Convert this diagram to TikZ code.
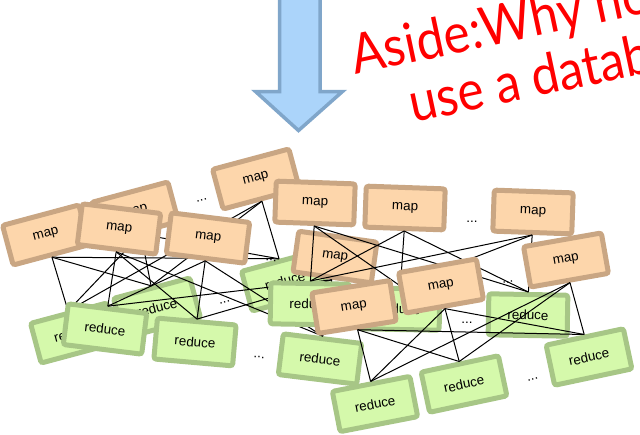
\documentclass[tikz,border=0pt]{standalone}
\usepackage{fontspec}
\setmainfont{Liberation Sans}
\newfontfamily\titlefont[FakeStretch=0.9]{Lato}
\definecolor{mapfill}{HTML}{FDD6AB}
\definecolor{mapline}{HTML}{C9A683}
\definecolor{redfill}{HTML}{D5F9AB}
\definecolor{redline}{HTML}{A7C686}
\definecolor{arrowfill}{HTML}{ABD4FA}
\definecolor{arrowline}{HTML}{80A6CA}
\begin{document}
\begin{tikzpicture}[x=1pt,y=-1pt,
  box/.style={draw, line width=5pt, rounded corners=2.5pt, minimum width=79pt,
    minimum height=41pt, inner sep=0pt, font=\fontsize{13.4}{15}\selectfont},
  mapbox/.style={box, draw=mapline, fill=mapfill},
  redbox/.style={box, draw=redline, fill=redfill},
  dots/.style={font=\fontsize{13.4}{15}\selectfont, inner sep=0pt, anchor=base},
  link/.style={line width=1pt},
  title/.style={anchor=base west, rotate=12, text=red, inner sep=0pt,
    font=\titlefont\fontsize{55}{60}\selectfont}]
\useasboundingbox (0,0) rectangle (640,434);
\clip (0,0) rectangle (640,434);

% big arrow
\draw[arrowline, fill=arrowfill, line width=3.5pt, line join=miter]
  (279.5,-10) -- (320,-10) -- (320,91.5) -- (342.5,91.5) -- (298.5,130.5)
  -- (255.5,91.5) -- (279.5,91.5) -- cycle;

% title
\node[title] (t1) at (355,75) {Aside:Why not};
\node[title] (t2) at (413,123) {use a database?};

% job P (back)
\node[mapbox, rotate=15] (Pm1) at (46,235) {map};
\node[mapbox, rotate=15] (Pm2) at (135,212) {map};
\node[mapbox, rotate=15] (Pm3) at (256,179) {map};
\node[dots, rotate=15] (Pd1) at (202,201) {...};
\node[redbox, rotate=15] (Pr1) at (74,333) {reduce};
\node[redbox, rotate=15] (Pr2) at (157,308) {reduce};
\node[redbox, rotate=15] (Pr3) at (285,281) {reduce};
\node[dots, rotate=15] (Pd2) at (225,303) {...};
\foreach \m in {Pm1,Pm2,Pm3} \foreach \r in {Pr1,Pr2,Pr3}
  \draw[link] (\m.south) -- (\r.north);

% job Q
\node[mapbox, rotate=-7] (Qm1) at (119,229) {map};
\node[mapbox, rotate=-7] (Qm2) at (208,238) {map};
\node[mapbox, rotate=-8] (Qm3) at (335,257) {map};
\node[dots, rotate=-7] (Qd1) at (271,261) {...};
\node[redbox, rotate=-7] (Qr1) at (105,329) {reduce};
\node[redbox, rotate=-5] (Qr2) at (195,342) {reduce};
\node[redbox, rotate=-7] (Qr3) at (320,359) {reduce};
\node[dots, rotate=-7] (Qd2) at (259,358) {...};
\foreach \m in {Qm1,Qm2,Qm3} \foreach \r in {Qr1,Qr2,Qr3}
  \draw[link] (\m.south) -- (\r.north);

% job S
\node[mapbox, rotate=-2] (Sm1) at (315,203) {map};
\node[mapbox, rotate=-2] (Sm2) at (405,208) {map};
\node[mapbox, rotate=-2] (Sm3) at (533,212) {map};
\node[dots] (Sd1) at (472,222) {...};
\node[redbox, rotate=-1] (Sr1) at (310,304) {reduce};
\node[redbox, rotate=-1] (Sr2) at (400,309) {reduce};
\node[redbox, rotate=-1] (Sr3) at (528,315) {reduce};
\node[dots] (Sd2) at (467,323) {...};
\foreach \m in {Sm1,Sm2,Sm3} \foreach \r in {Sr1,Sr2,Sr3}
  \draw[link] (\m.south) -- (\r.north);

% job T (front)
\node[mapbox, rotate=9] (Tm1) at (354,307) {map};
\node[mapbox, rotate=10] (Tm2) at (441,286) {map};
\node[mapbox, rotate=10] (Tm3) at (566,260) {map};
\node[dots, rotate=10] (Td1) at (508,283) {...};
\node[redbox, rotate=11] (Tr1) at (375,404) {reduce};
\node[redbox, rotate=12] (Tr2) at (464,384) {reduce};
\node[redbox, rotate=12] (Tr3) at (589,357) {reduce};
\node[dots, rotate=11] (Td2) at (533,380) {...};
\foreach \m in {Tm1,Tm2,Tm3} \foreach \r in {Tr1,Tr2,Tr3}
  \draw[link] (\m.south) -- (\r.north);
\end{tikzpicture}
\end{document}
